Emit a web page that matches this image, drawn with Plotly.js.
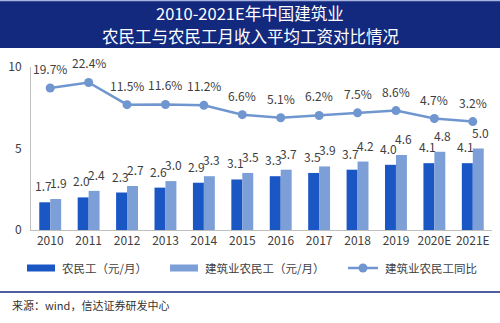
<!DOCTYPE html>
<html>
<head>
<meta charset="utf-8">
<script src="https://cdn.plot.ly/plotly-3.0.1.min.js"></script>
<style>html,body{margin:0;padding:0;background:#fff;}#chart{width:500px;height:323px;}</style>
</head>
<body>
<div id="chart"></div>
<script>
const years = ["2010","2011","2012","2013","2014","2015","2016","2017","2018","2019","2020E","2021E"];
const migrantWage = [1.7,2.0,2.3,2.6,2.9,3.1,3.3,3.5,3.7,4.0,4.1,4.1];
const constructionWage = [1.9,2.4,2.7,3.0,3.3,3.5,3.7,3.9,4.2,4.6,4.8,5.0];
const constructionYoY = [19.7,22.4,11.5,11.6,11.2,6.6,5.1,6.2,7.5,8.6,4.7,3.2];
const yTicks = [0,5,10];
const seriesNames = ['农民工（元/月）', '建筑业农民工（元/月）', '建筑业农民工同比'];
const titleLines = ['2010-2021E年中国建筑业', '农民工与农民工月收入平均工资对比情况'];

const FONT = '"Noto Sans CJK SC", "Noto Sans", sans-serif';
const TXT = '#404040';
const C1 = '#1a57c4', C2 = '#7b9fd6', C3 = '#7096d0';

// plot area in pixels: x 31..492, y 67..230
const px = x => (x - 31) / 461;
const py = y => (230 - y) / 163;

const traces = [
  {type: 'bar', name: seriesNames[0], x: years, y: migrantWage, marker: {color: C1}},
  {type: 'bar', name: seriesNames[1], x: years, y: constructionWage, marker: {color: C2}},
  {type: 'scatter', mode: 'lines+markers', name: seriesNames[2],
   x: years, y: constructionYoY, yaxis: 'y2',
   line: {color: C3, width: 2.5}, marker: {color: C3, size: 9}, cliponaxis: false}
];

const annotations = [];
const lblFont = {family: FONT, size: 12, color: TXT};
years.forEach((yr, i) => {
  annotations.push({x: i, y: migrantWage[i], xref: 'x', yref: 'y', text: migrantWage[i].toFixed(1),
    showarrow: false, yanchor: 'bottom', xanchor: 'center', xshift: -7, yshift: 6, font: lblFont});
  annotations.push({x: i, y: constructionWage[i], xref: 'x', yref: 'y', text: constructionWage[i].toFixed(1),
    showarrow: false, yanchor: 'bottom', xanchor: 'center', xshift: 8, yshift: 6, font: lblFont});
  annotations.push({x: i, y: constructionYoY[i], xref: 'x', yref: 'y2', text: constructionYoY[i].toFixed(1) + '%',
    showarrow: false, yanchor: 'bottom', xanchor: 'center', yshift: 9, font: lblFont});
});

// title as two lines on the navy header band
titleLines.forEach((t, k) => {
  annotations.push({text: t, xref: 'paper', yref: 'paper', x: px(250), y: py(k === 0 ? 13 : 36),
    xanchor: 'center', yanchor: 'middle', showarrow: false,
    font: {family: FONT, size: 16.5, color: '#ffffff'}});
});

// custom legend (wide flat swatches like the reference)
const legY = 268;
const legFont = {family: FONT, size: 11.5, color: TXT};
const shapes = [
  {type: 'rect', xref: 'paper', yref: 'paper', x0: -0.08, x1: 1.03, y0: py(48), y1: py(0),
   fillcolor: '#13297e', line: {width: 0}, layer: 'below'},
  {type: 'line', xref: 'paper', yref: 'paper', x0: -0.08, x1: 1.03, y0: py(0.5), y1: py(0.5),
   line: {color: '#a8b4e0', width: 1.5}},
  {type: 'line', xref: 'paper', yref: 'paper', x0: -0.08, x1: 1.03, y0: py(292), y1: py(292),
   line: {color: '#13297e', width: 1.5}},
  {type: 'rect', xref: 'paper', yref: 'paper', x0: px(27), x1: px(55), y0: py(legY + 3.5), y1: py(legY - 3.5),
   fillcolor: C1, line: {width: 0}},
  {type: 'rect', xref: 'paper', yref: 'paper', x0: px(170), x1: px(198), y0: py(legY + 3.5), y1: py(legY - 3.5),
   fillcolor: C2, line: {width: 0}},
  {type: 'line', xref: 'paper', yref: 'paper', x0: px(348), x1: px(378), y0: py(legY), y1: py(legY),
   line: {color: C3, width: 2.5}},
  {type: 'circle', xref: 'paper', yref: 'paper', x0: px(358.5), x1: px(367.5), y0: py(legY + 4.5), y1: py(legY - 4.5),
   fillcolor: C3, line: {width: 0}}
];
[[60, 0], [203, 1], [383, 2]].forEach(([x, k]) => {
  annotations.push({text: seriesNames[k], xref: 'paper', yref: 'paper', x: px(x), y: py(legY),
    xanchor: 'left', yanchor: 'middle', showarrow: false, font: legFont});
});
annotations.push({text: '来源：wind，信达证券研发中心', xref: 'paper', yref: 'paper',
  x: px(10), y: py(305), xanchor: 'left', yanchor: 'middle', showarrow: false,
  font: {family: FONT, size: 11, color: '#333333'}});

const layout = {
  width: 500, height: 323,
  margin: {l: 31, r: 8, t: 67, b: 93},
  paper_bgcolor: '#ffffff', plot_bgcolor: '#ffffff',
  font: {family: FONT, color: TXT},
  barmode: 'group', bargap: 0.43, bargroupgap: 0,
  showlegend: false,
  xaxis: {
    type: 'category', categoryorder: 'array', categoryarray: years,
    range: [-0.5, years.length - 0.5],
    showline: true, linecolor: '#bfbfbf', linewidth: 1,
    ticks: '', tickfont: {family: FONT, size: 12, color: TXT}, showgrid: false
  },
  yaxis: {
    range: [0, 10], tickvals: yTicks, showgrid: false, zeroline: false,
    showline: true, linecolor: '#bfbfbf', linewidth: 1, ticks: '',
    tickfont: {family: FONT, size: 12, color: TXT}, ticklabelstandoff: 6
  },
  yaxis2: {range: [-50, 30], overlaying: 'y', side: 'right', visible: false},
  shapes: shapes,
  annotations: annotations
};

Plotly.newPlot('chart', traces, layout, {displayModeBar: false, staticPlot: true});
</script>
</body>
</html>
